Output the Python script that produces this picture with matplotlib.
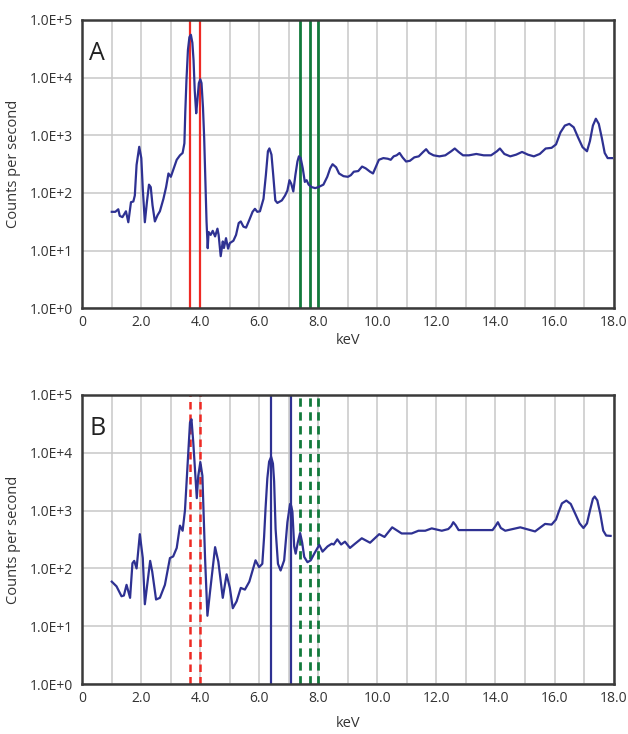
import matplotlib
matplotlib.use("Agg")
import matplotlib.pyplot as plt

plt.rcParams['font.family'] = ['Open Sans', 'DejaVu Sans']

# ---------------- data ----------------
a_kev = [1.00, 1.12, 1.22, 1.27, 1.36, 1.48, 1.56, 1.65, 1.73, 1.78, 1.84, 1.93, 2.00, 2.05,
         2.12, 2.19, 2.26, 2.32, 2.38, 2.46, 2.55, 2.63, 2.75, 2.84, 2.92, 3.00, 3.08, 3.20,
         3.31, 3.40, 3.46, 3.49, 3.53, 3.58, 3.63, 3.68, 3.73, 3.77, 3.81, 3.86, 3.90, 3.95,
         4.00, 4.04, 4.09, 4.13, 4.17, 4.21, 4.25, 4.28, 4.35, 4.42, 4.50, 4.58, 4.62, 4.69, 4.76,
         4.80, 4.87, 4.94, 5.00, 5.12, 5.21, 5.30, 5.37, 5.46, 5.55, 5.66, 5.77, 5.85, 5.93,
         6.02, 6.14, 6.22, 6.29, 6.34, 6.41, 6.47, 6.54, 6.61, 6.76, 6.87, 6.95, 7.02, 7.08,
         7.15, 7.22, 7.29, 7.34, 7.40, 7.47, 7.54, 7.60, 7.67, 7.77, 7.89, 8.00, 8.17, 8.30,
         8.40, 8.48, 8.60, 8.70, 8.85, 9.00, 9.10, 9.20, 9.35, 9.48, 9.60, 9.75, 9.85, 9.95,
         10.05, 10.20, 10.35, 10.45, 10.55, 10.65, 10.75, 10.85, 10.97, 11.10, 11.25, 11.40,
         11.55, 11.65, 11.75, 11.90, 12.10, 12.30, 12.50, 12.62, 12.75, 12.90, 13.10, 13.35,
         13.60, 13.85, 14.05, 14.15, 14.30, 14.50, 14.70, 14.90, 15.10, 15.30, 15.50, 15.70,
         15.90, 16.05, 16.20, 16.35, 16.50, 16.65, 16.80, 16.95, 17.10, 17.20, 17.30, 17.40,
         17.50, 17.60, 17.70, 17.80, 17.95]
a_cps = [47, 47, 52, 40, 38, 48, 31, 69, 71, 90, 306, 629, 401, 118,
         31, 69, 139, 126, 61, 32, 41, 48, 79, 126, 217, 190, 249, 375,
         448, 492, 725, 2500, 9000, 30000, 50000, 55000, 40000, 20000, 6000, 2400, 4000, 8000,
         9300, 8000, 3000, 900, 160, 32, 11, 21, 18.7, 22, 17.6, 24, 18.7, 8.0, 14.4,
         11.1, 16.4, 10.8, 13.5, 14.8, 18.7, 30, 32, 26, 25, 34, 47, 53, 47,
         48, 79, 203, 527, 590, 460, 203, 74, 67, 74, 90, 110, 166, 144,
         106, 203, 350, 430, 401, 267, 155, 166, 139, 126, 121, 126, 139, 190,
         267, 314, 278, 217, 195, 190, 203, 233, 239, 286, 267, 233, 217, 286,
         375, 401, 391, 375, 430, 448, 492, 413, 350, 360, 413, 430,
         513, 572, 492, 448, 430, 448, 527, 588, 513, 448, 448, 473,
         448, 448, 527, 588, 473, 430, 460, 513, 460, 430, 473, 588,
         604, 692, 1116, 1468, 1570, 1371, 909, 620, 527, 793, 1468, 1930,
         1570, 909, 492, 401, 401]

b_kev = [1.00, 1.16, 1.33, 1.41, 1.50, 1.62, 1.70, 1.76, 1.84, 1.95, 2.05, 2.12, 2.20, 2.30,
         2.37, 2.50, 2.63, 2.80, 2.97, 3.08, 3.20, 3.31, 3.40, 3.48, 3.56, 3.65, 3.70, 3.76,
         3.88, 3.93, 4.00, 4.07, 4.16, 4.24, 4.33, 4.50, 4.61, 4.76, 4.89, 5.00, 5.10, 5.23,
         5.37, 5.51, 5.66, 5.87, 5.99, 6.10, 6.16, 6.21, 6.27, 6.33, 6.40, 6.46, 6.50, 6.55,
         6.63, 6.72, 6.84, 6.95, 7.04, 7.08, 7.12, 7.18, 7.23, 7.30, 7.38, 7.45, 7.52, 7.63,
         7.74, 7.86, 8.03, 8.14, 8.31, 8.45,
         8.52, 8.64, 8.77, 8.90, 9.07, 9.24, 9.47, 9.75, 10.06, 10.24, 10.50, 10.82, 11.16,
         11.39, 11.62, 11.84, 12.18, 12.40, 12.50, 12.57, 12.65, 12.75, 13.30, 13.76, 13.90,
         14.00, 14.08, 14.18, 14.33, 14.84, 15.34, 15.68, 15.90, 16.05, 16.14, 16.25, 16.40,
         16.55, 16.70, 16.85, 16.98, 17.10, 17.20, 17.30, 17.36, 17.45, 17.55, 17.65, 17.75,
         17.90]
b_cps = [59, 49, 33, 34, 52, 31, 123, 135, 100, 391, 151, 24, 52, 135,
         88, 29, 31, 52, 151, 161, 226, 549, 448, 1013, 5250, 33300, 37900, 15300,
         1640, 3990, 6900, 3990, 151, 15.2, 40, 233, 131, 31, 79, 46, 20.5, 27,
         46, 43, 59, 138, 105, 120, 350, 1100, 3600, 7000, 8500, 6500, 3200, 480,
         120, 92, 138, 630, 1300, 1200, 950, 240, 180, 280, 410, 280, 158, 128,
         138, 180, 255, 195, 240, 267,
         259, 318, 259, 290, 226, 267, 332, 278, 391, 350, 513, 402, 402,
         448, 448, 492, 448, 479, 540, 629, 560, 460, 460, 460, 460,
         540, 629, 500, 448, 513, 436, 588, 572, 700, 947, 1330, 1489,
         1300, 885, 600, 499, 600, 1000, 1600, 1750, 1500, 885, 450, 370,
         365]

ca_lines = [3.66, 4.00]
fe_lines = [6.39, 7.06]
green_lines = [7.38, 7.71, 7.97]

xticks = [0, 2, 4, 6, 8, 10, 12, 14, 16, 18]
xticklabels = ["0", "2.0", "4.0", "6.0", "8.0", "10.0", "12.0", "14.0", "16.0", "18.0"]
yticks = [1e0, 1e1, 1e2, 1e3, 1e4, 1e5]
yticklabels = ["1.0E+0", "1.0E+1", "1.0E+2", "1.0E+3", "1.0E+4", "1.0E+5"]

# ---------------- style ----------------
CURVE = '#2e3192'
RED = '#ee2a24'
GREEN = '#137a3c'
GRID = '#c8c8c8'
TXT = '#333333'

fig = plt.figure(figsize=(6.28, 7.34), dpi=100)
axA = fig.add_axes([0.131, 0.580, 0.846, 0.393])
axB = fig.add_axes([0.131, 0.068, 0.846, 0.394])


def style(ax, letter, labelpad):
    ax.set_yscale('log')
    ax.set_xlim(0, 18)
    ax.set_ylim(1, 1e5)
    ax.set_xticks(xticks)
    ax.set_xticklabels(xticklabels)
    ax.set_xticks(range(1, 18), minor=True)
    ax.set_yticks(yticks)
    ax.set_yticklabels(yticklabels)
    ax.yaxis.set_minor_locator(matplotlib.ticker.NullLocator())
    ax.grid(True, which='both', axis='x', color=GRID, lw=1.1)
    ax.grid(True, which='major', axis='y', color=GRID, lw=1.1)
    ax.set_axisbelow(True)
    ax.tick_params(which='both', length=0, labelsize=10, colors=TXT)
    ax.tick_params(axis='y', pad=7)
    ax.tick_params(axis='x', pad=5)
    for s in ax.spines.values():
        s.set_color('#3a3a3a')
        s.set_linewidth(1.8)
    ax.set_xlabel('keV', fontsize=10.5, color=TXT, labelpad=labelpad)
    ax.set_ylabel('Counts per second', fontsize=10.5, color=TXT, labelpad=6)
    ax.text(0.013, 0.86, letter, transform=ax.transAxes, fontsize=18, color='#222222',
            ha='left', va='baseline')


style(axA, 'A', 2)
style(axB, 'B', 7)

# Panel A
for x in ca_lines:
    axA.axvline(x, color=RED, lw=1.6, zorder=2)
for x in green_lines:
    axA.axvline(x, color=GREEN, lw=2.0, zorder=2)
axA.plot(a_kev, a_cps, color=CURVE, lw=1.6, zorder=3)

# Panel B
for x in ca_lines:
    axB.axvline(x, color=RED, lw=1.8, ls=(0, (3, 2)), zorder=2)
for x in green_lines:
    axB.axvline(x, color=GREEN, lw=2.0, ls=(0, (3, 2)), zorder=2)
for x in fe_lines:
    axB.axvline(x, color=CURVE, lw=1.6, zorder=2)
axB.plot(b_kev, b_cps, color=CURVE, lw=1.6, zorder=3)

fig.savefig('out.png', dpi=100)
